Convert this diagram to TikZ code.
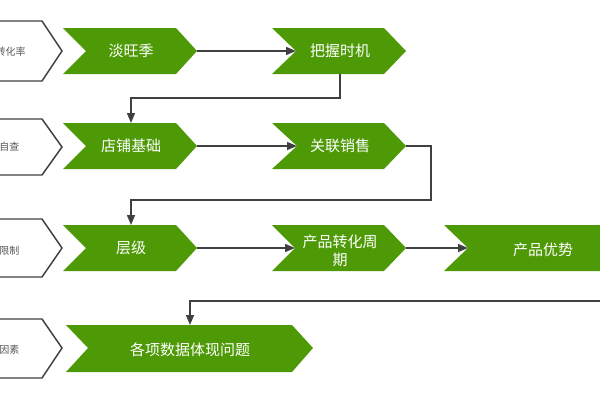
\documentclass[tikz,border=0pt]{standalone}
\usepackage{fontspec}
\setmainfont{Noto Sans CJK SC}
\usetikzlibrary{arrows.meta}
\definecolor{chevgreen}{RGB}{78,154,6}
\definecolor{linegray}{RGB}{64,64,64}
\definecolor{labelgray}{RGB}{89,89,89}

\tikzset{every picture/.style={line width=0.75pt}}

\begin{document}
\begin{tikzpicture}[x=0.75pt,y=0.75pt,yscale=-1,xscale=1,
    greenchev/.style={fill=chevgreen},
    whitechev/.style={draw=linegray, line width=1.1pt, fill=white},
    steptext/.style={text=white, font=\fontsize{11.25}{13.5}\selectfont, inner sep=0.75pt, align=center},
    sidetext/.style={text=labelgray, font=\fontsize{7.5}{9}\selectfont, inner sep=0pt, anchor=east},
    conn/.style={draw=linegray, line width=1.1pt, -{Triangle[length=7.5pt,width=6pt]}}]
        \useasboundingbox (0,0) rectangle (600,400);
        \clip (0,0) rectangle (600,400);

        %Shape: Chevron [side labels] 
        \draw[whitechev] (-80,21) -- (42,21) -- (62,51) -- (42,81) -- (-80,81) -- cycle ;
        \draw[whitechev] (-80,119) -- (42,119) -- (62,147) -- (42,175) -- (-80,175) -- cycle ;
        \draw[whitechev] (-80,219) -- (42,219) -- (62,248) -- (42,277) -- (-80,277) -- cycle ;
        \draw[whitechev] (-80,319) -- (42,319) -- (62,348) -- (42,378) -- (-80,378) -- cycle ;

        %Shape: Chevron [row 1] 
        \fill[greenchev] (63,28) -- (176,28) -- (197,51) -- (176,74) -- (63,74) -- (86,51) -- cycle ;
        \coordinate (dwj-tip) at (197,51);
        \fill[greenchev] (272,28) -- (384,28) -- (406,51) -- (384,74) -- (272,74) -- (296,51) -- cycle ;
        \coordinate (bwsj-in) at (296,51);
        \coordinate (bwsj-b) at (340,74);

        %Shape: Chevron [row 2] 
        \fill[greenchev] (63,123) -- (176,123) -- (197,146) -- (176,169) -- (63,169) -- (86,146) -- cycle ;
        \coordinate (dpjc-t) at (131,123);
        \coordinate (dpjc-tip) at (197,146);
        \fill[greenchev] (272,123) -- (384,123) -- (406,146) -- (384,169) -- (272,169) -- (297,146) -- cycle ;
        \coordinate (glxs-in) at (297,146);
        \coordinate (glxs-tip) at (406,146);

        %Shape: Chevron [row 3] 
        \fill[greenchev] (63,225) -- (176,225) -- (197,248) -- (176,271) -- (63,271) -- (86,248) -- cycle ;
        \coordinate (cj-t) at (131,225);
        \coordinate (cj-tip) at (197,248);
        \fill[greenchev] (272,225) -- (384,225) -- (406,248) -- (384,271) -- (272,271) -- (295,248) -- cycle ;
        \coordinate (cpzh-in) at (295,248);
        \coordinate (cpzh-tip) at (406,248);
        \fill[greenchev] (444,225) -- (640,225) -- (662,248) -- (640,271) -- (444,271) -- (468,248) -- cycle ;
        \coordinate (cpys-in) at (468,248);
        \coordinate (cpys-b) at (640,271);

        %Shape: Chevron [row 4] 
        \fill[greenchev] (66,325) -- (292,325) -- (313,348) -- (292,372) -- (66,372) -- (88,348) -- cycle ;
        \coordinate (gxsj-t) at (190,325);

        %Connectors 
        \draw[conn] (dwj-tip) -- (bwsj-in) ;
        \draw[conn] (bwsj-b) -- ++(0,24) -| (dpjc-t) ;
        \draw[conn] (dpjc-tip) -- (glxs-in) ;
        \draw[conn] (glxs-tip) -| (431,200) -| (cj-t) ;
        \draw[conn] (cj-tip) -- (cpzh-in) ;
        \draw[conn] (cpzh-tip) -- (cpys-in) ;
        \draw[conn] (cpys-b) -- ++(0,30) -| (gxsj-t) ;

        % Text Node
        \node[sidetext] (zhl) at (26,52) {转化率};
        \node[sidetext] (zc) at (20,147) {自查};
        \node[sidetext] (xz) at (20,251) {限制};
        \node[sidetext] (ys) at (20,350) {因素};
        % Text Node
        \node[steptext] (dwj) at (131,51) {淡旺季};
        \node[steptext] (bwsj) at (340,51) {把握时机};
        \node[steptext] (dpjc) at (131,146) {店铺基础};
        \node[steptext] (glxs) at (340,146) {关联销售};
        \node[steptext] (cj) at (131,248) {层级};
        \node[steptext] (cpzh) at (340,251) {产品转化周\\期};
        \node[steptext] (cpys) at (543,250) {产品优势};
        \node[steptext] (gxsj) at (190,350) {各项数据体现问题};

    \end{tikzpicture}
\end{document}
